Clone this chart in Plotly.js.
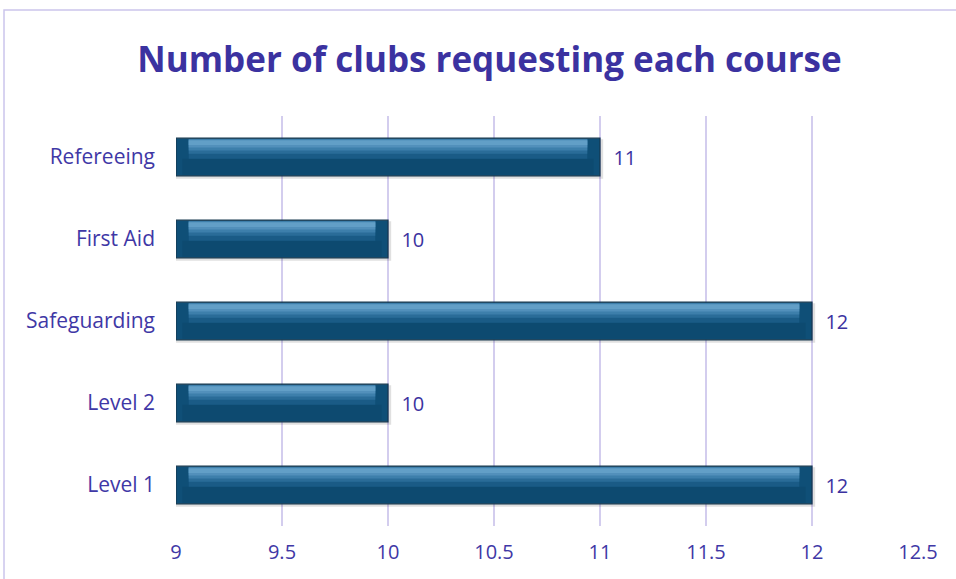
<!DOCTYPE html>
<html>
<head>
<meta charset="utf-8">
<script src="https://cdn.plot.ly/plotly-3.0.1.min.js"></script>
<style>html,body{margin:0;padding:0;background:#fff;}#chart{width:956px;height:579px;}</style>
</head>
<body>
<div id="chart"></div>
<script>
const categories = ["Level 1", "Level 2", "Safeguarding", "First Aid", "Refereeing"];
const values = [12, 10, 12, 10, 11];
const tickVals = [9, 9.5, 10, 10.5, 11, 11.5, 12, 12.5];
const tickLabels = ["9", "9.5", "10", "10.5", "11", "11.5", "12", "12.5"];

const purple = "#3b32a0";
const labelPurple = "#3f38a6";
const FONT = "'Open Sans', sans-serif";
const barW = 0.46;
const h = barW / 2;
const inset = 0.06;

function band(y0, y1, color, ins) {
  return {type: "bar", orientation: "h", y: categories,
          x: values.map(v => v - 9 - 2 * ins), base: 9 + ins,
          width: y1 - y0, offset: y0,
          marker: {color: color, line: {width: 0}}, hoverinfo: "skip", showlegend: false};
}

const traces = [
  // shadow
  {type: "bar", orientation: "h", y: categories, x: values.map(v => v - 9 + 0.015), base: 9,
   width: barW + 0.02, offset: -h - 0.035,
   marker: {color: "rgba(0,0,0,0.12)", line: {width: 0}}, hoverinfo: "skip", showlegend: false},
  // main bar
  {type: "bar", orientation: "h", y: categories, x: values.map(v => v - 9), base: 9,
   width: barW, offset: -h,
   marker: {color: "#0f4f77", line: {color: "#16384f", width: 1.2}},
   text: values.map(v => "\u00a0\u00a0" + v), textposition: "outside", cliponaxis: false,
   textfont: {color: purple, size: 20, family: FONT},
   hoverinfo: "skip", showlegend: false},
  band(-h + 0.015, -0.02, "#0d4a70", 0.03),
  band(-0.02, h - 0.01, "#1a5b86", inset),
  band(0.04, h - 0.012, "#2a6c98", inset),
  band(0.08, h - 0.015, "#3d7fab", inset),
  band(0.115, h - 0.02, "#5290bb", inset),
  band(0.145, h - 0.03, "#629fc7", inset)
];

const layout = {
  width: 956, height: 579,
  margin: {l: 176, r: 38, t: 116, b: 53},
  paper_bgcolor: "#ffffff", plot_bgcolor: "#ffffff",
  barmode: "overlay",
  title: {text: "<b>Number of clubs requesting each course</b>",
          font: {family: FONT, size: 35, color: purple},
          x: 0.512, xanchor: "center", y: 0.896, yanchor: "middle"},
  xaxis: {range: [9, 12.5], tickvals: tickVals, ticktext: tickLabels,
          showgrid: true, gridcolor: "#d3cdee", gridwidth: 1.3,
          zeroline: false, showline: false, ticks: "",
          tickfont: {family: FONT, size: 20, color: labelPurple}, ticklabelstandoff: 12, fixedrange: true},
  yaxis: {categoryorder: "array", categoryarray: categories, showgrid: false,
          zeroline: false, showline: false, ticks: "",
          tickfont: {family: FONT, size: 21, color: labelPurple}, ticklabelstandoff: 20, fixedrange: true},
  shapes: [
    {type: "rect", xref: "paper", yref: "paper",
     x0: -0.2318, x1: 1.06, y0: -0.15, y1: 1.2585,
     line: {color: "#cbc5ec", width: 1.5}, fillcolor: "rgba(0,0,0,0)", layer: "below"}
  ]
};

Plotly.newPlot("chart", traces, layout, {displayModeBar: false, staticPlot: true});
</script>
</body>
</html>
